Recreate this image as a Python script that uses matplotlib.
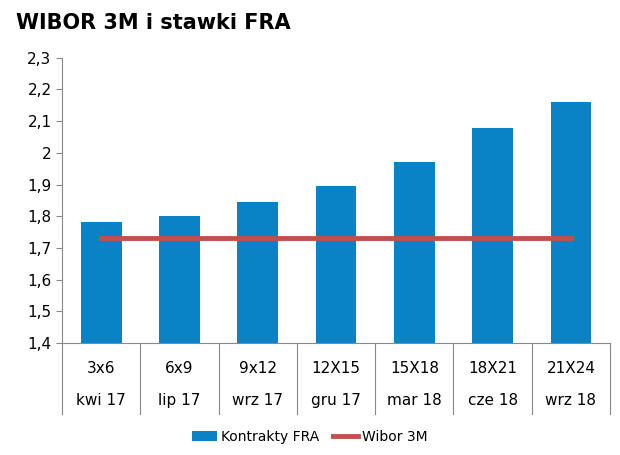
import matplotlib
matplotlib.use("Agg")
import matplotlib.pyplot as plt
import numpy as np

contracts = ["3x6", "6x9", "9x12", "12X15", "15X18", "18X21", "21X24"]
months = ["kwi 17", "lip 17", "wrz 17", "gru 17", "mar 18", "cze 18", "wrz 18"]
fra = [1.783, 1.80, 1.845, 1.895, 1.97, 2.077, 2.16]
wibor = [1.73] * 7
yticks = [1.4, 1.5, 1.6, 1.7, 1.8, 1.9, 2.0, 2.1, 2.2, 2.3]
ylabels = ["1,4", "1,5", "1,6", "1,7", "1,8", "1,9", "2", "2,1", "2,2", "2,3"]

plt.rcParams["font.family"] = "DejaVu Sans"
fig = plt.figure(figsize=(6.2, 4.55), dpi=100)
ax = fig.add_axes([0.1, 0.246, 0.884, 0.627])

x = np.arange(len(fra))
bars = ax.bar(x, np.array(fra) - 1.4, bottom=1.4, width=0.52, color="#0a83c6", label="Kontrakty FRA", zorder=2)
line, = ax.plot(x, wibor, color="#c0504d", lw=3.5, label="Wibor 3M", zorder=3)

ax.set_ylim(1.4, 2.3)
ax.set_xlim(-0.5, len(fra) - 0.5)
ax.set_yticks(yticks)
ax.set_yticklabels(ylabels, fontsize=11)
ax.set_xticks([])
for s in ["top", "right"]:
    ax.spines[s].set_visible(False)
for s in ["left", "bottom"]:
    ax.spines[s].set_color("#888888")
ax.tick_params(axis="y", length=4, color="#888888")

n = len(fra)
for i in range(n):
    xc = (i + 0.5) / n
    ax.text(xc, -0.09, contracts[i], transform=ax.transAxes, ha="center", va="center", fontsize=11)
    ax.text(xc, -0.2, months[i], transform=ax.transAxes, ha="center", va="center", fontsize=11)
for i in range(n + 1):
    ax.plot([i / n, i / n], [0, -0.25], transform=ax.transAxes, color="#888888", lw=0.8, clip_on=False)

fig.text(0.025, 0.95, "WIBOR 3M i stawki FRA", fontsize=15, fontweight="bold", va="center")
fig.legend([bars, line], ["Kontrakty FRA", "Wibor 3M"], loc="center", bbox_to_anchor=(0.5, 0.04),
           ncol=2, frameon=False, fontsize=10, handlelength=1.8, columnspacing=1.0, handletextpad=0.3)

fig.savefig("out.png", dpi=100)
